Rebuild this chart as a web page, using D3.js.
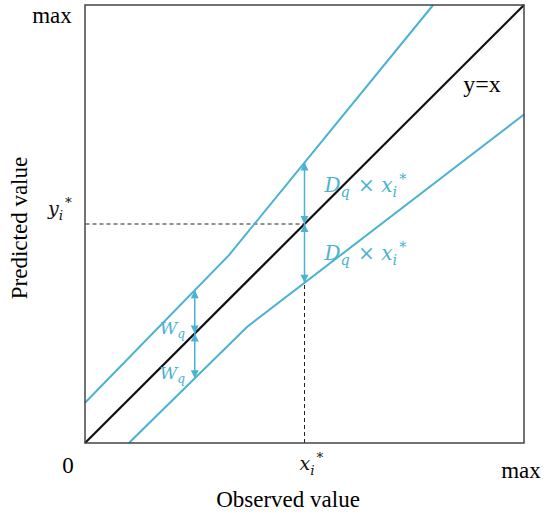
<!DOCTYPE html>
<html>
<head>
<meta charset="utf-8">
<script src="https://cdn.jsdelivr.net/npm/d3@7"></script>
<style>
  body { margin: 0; background: #fff; }
  .serif { font-family: "Liberation Serif", "Times New Roman", serif; }
  .math { font-family: "DejaVu Serif", serif; font-style: italic; }
</style>
</head>
<body>
<div id="chart"></div>
<script>
// band lines, in data units (0..1 = 0..max)
const identityLine = [[0, 0], [1, 1]];
const upperBand = [[0, 0.092], [0.328, 0.429], [0.793, 1]];
const lowerBand = [[0.1, 0], [0.369, 0.265], [1, 0.75]];
const xStar = 0.5;
const yStar = 0.5;
const wAt = 0.25;
const tickLabels = ["0", "max"];

const blue = "#4ab2d2";
const width = 545;
const height = 515;

const x = d3.scaleLinear().domain([0, 1]).range([85, 524]);
const y = d3.scaleLinear().domain([0, 1]).range([443, 5]);

const svg = d3.select("#chart")
    .append("svg")
    .attr("width", width)
    .attr("height", height);

const line = d3.line()
    .x(d => x(d[0]))
    .y(d => y(d[1]));

// value of a polyline at a given x
function bandAt(pts, v) {
    for (let i = 0; i < pts.length - 1; i++) {
        const a = pts[i], b = pts[i + 1];
        if (v >= a[0] && v <= b[0]) {
            return a[1] + (b[1] - a[1]) * (v - a[0]) / (b[0] - a[0]);
        }
    }
    return pts[pts.length - 1][1];
}

// dashed guides
svg.append("path")
    .attr("d", line([[xStar, 0], [xStar, yStar], [0, yStar]]))
    .attr("fill", "none")
    .attr("stroke", "#222")
    .attr("stroke-width", 1)
    .attr("stroke-dasharray", "4,3");

// band lines
[upperBand, lowerBand].forEach(b => {
    svg.append("path")
        .attr("d", line(b))
        .attr("fill", "none")
        .attr("stroke", blue)
        .attr("stroke-width", 2);
});

svg.append("path")
    .attr("d", line(identityLine))
    .attr("fill", "none")
    .attr("stroke", "#111")
    .attr("stroke-width", 2.2);

// frame
svg.append("rect")
    .attr("x", x(0))
    .attr("y", y(1))
    .attr("width", x(1) - x(0))
    .attr("height", y(0) - y(1))
    .attr("fill", "none")
    .attr("stroke", "#444")
    .attr("stroke-width", 1.5);

// double headed arrow between two values at one x
function arrow(xv, v1, v2) {
    const px = x(xv), p1 = y(v1), p2 = y(v2);
    const dir = p2 > p1 ? 1 : -1;
    const hl = 8, hw = 4;
    svg.append("line")
        .attr("x1", px).attr("x2", px)
        .attr("y1", p1).attr("y2", p2)
        .attr("stroke", blue)
        .attr("stroke-width", 1.5);
    [[p1, -dir], [p2, dir]].forEach(([tip, d]) => {
        svg.append("path")
            .attr("d", `M${px},${tip} L${px - hw},${tip - d * hl} L${px + hw},${tip - d * hl} Z`)
            .attr("fill", blue);
    });
}

arrow(wAt, wAt, bandAt(upperBand, wAt));
arrow(wAt, wAt, bandAt(lowerBand, wAt));
arrow(xStar, xStar, bandAt(upperBand, xStar));
arrow(xStar, xStar, bandAt(lowerBand, xStar));

// plain labels
svg.append("text").attr("class", "serif")
    .attr("x", x(0) - 17).attr("y", 473)
    .attr("text-anchor", "middle")
    .attr("font-size", 23)
    .text(tickLabels[0]);

svg.append("text").attr("class", "serif")
    .attr("x", x(1) - 3).attr("y", 478)
    .attr("text-anchor", "middle")
    .attr("font-size", 23)
    .text(tickLabels[1]);

svg.append("text").attr("class", "serif")
    .attr("x", 52).attr("y", 23)
    .attr("text-anchor", "middle")
    .attr("font-size", 23)
    .text(tickLabels[1]);

svg.append("text").attr("class", "serif")
    .attr("x", 482).attr("y", 92)
    .attr("text-anchor", "middle")
    .attr("font-size", 24)
    .text("y=x");

svg.append("text").attr("class", "serif")
    .attr("x", 288).attr("y", 507)
    .attr("text-anchor", "middle")
    .attr("font-size", 23)
    .text("Observed value");

svg.append("text").attr("class", "serif")
    .attr("transform", "translate(27,228) rotate(-90)")
    .attr("text-anchor", "middle")
    .attr("font-size", 23)
    .text("Predicted value");

// math labels: base, subscript, optional superscript
function mathLabel(px, py, parts, color, size) {
    const t = svg.append("text").attr("class", "math")
        .attr("x", px).attr("y", py)
        .attr("fill", color)
        .attr("font-size", size);
    parts.forEach(p => {
        if (p.sub) {
            t.append("tspan").attr("font-size", size * 0.72).attr("dy", size * 0.25).text(p.sub);
            t.append("tspan").attr("dy", -size * 0.25).text("\u200a");
        } else if (p.sup) {
            t.append("tspan").attr("font-size", size * 0.72).attr("dy", -size * 0.42).text(p.sup);
            t.append("tspan").attr("dy", size * 0.42).text("");
        } else if (p.up) {
            t.append("tspan").attr("font-style", "normal").text(p.up);
        } else {
            t.append("tspan").text(p.t);
        }
    });
    return t;
}

mathLabel(x(xStar) - 5, 470, [{ t: "x" }, { sub: "i" }, { sup: "*" }], "#111", 19);
mathLabel(48, 215, [{ t: "y" }, { sub: "i" }, { sup: "*" }], "#111", 19);

const dParts = [{ t: "D" }, { sub: "q" }, { up: " \u00d7 " }, { t: "x" }, { sub: "i" }, { sup: "*" }];
mathLabel(x(xStar) + 20, 192, dParts, blue, 20);
mathLabel(x(xStar) + 20, 260, dParts, blue, 20);

mathLabel(x(wAt) - 35, 334, [{ t: "W" }, { sub: "q" }], blue, 17);
mathLabel(x(wAt) - 35, 379, [{ t: "W" }, { sub: "q" }], blue, 17);
</script>
</body>
</html>
